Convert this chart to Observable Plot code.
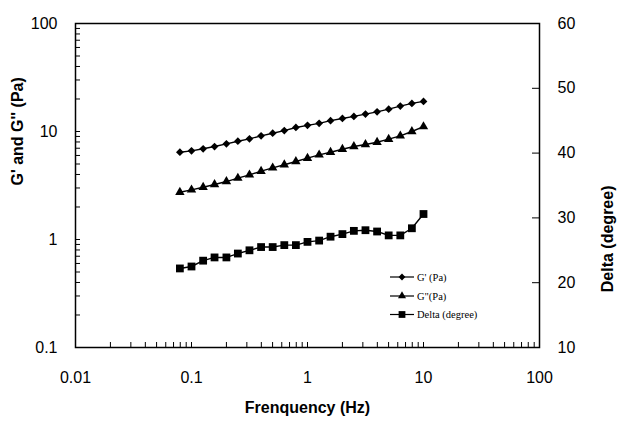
<!DOCTYPE html>
<html><head><meta charset="utf-8">
<script src="https://cdn.jsdelivr.net/npm/d3@7"></script>
<script src="https://cdn.jsdelivr.net/npm/@observablehq/plot@0.6"></script>
<style>body{margin:0;background:#fff} svg{display:block}</style>
</head><body><div id="chart"></div>
<script>
// ---- data ----
const frequency = [0.0794,0.1,0.126,0.158,0.2,0.251,0.316,0.398,0.501,0.631,0.794,1,1.26,1.58,2,2.51,3.16,3.98,5.01,6.31,7.94,10];
const gPrime = [6.43,6.62,6.92,7.26,7.69,8.13,8.55,9.12,9.64,10.2,10.9,11.4,11.9,12.6,13.2,13.8,14.5,15.2,16.1,17.2,18.2,19.0];
const gDoublePrime = [2.74,2.88,3.05,3.23,3.44,3.70,3.97,4.29,4.61,4.92,5.27,5.66,6.08,6.43,6.85,7.26,7.58,7.96,8.49,9.12,10.0,11.1];
const delta = [22.2,22.5,23.4,23.9,23.9,24.5,25.0,25.5,25.5,25.8,25.8,26.3,26.5,27.1,27.5,28.0,28.1,27.9,27.3,27.3,28.4,30.6];
const xTicks = [0.01,0.1,1,10,100];
const xTickLabels = ["0.01","0.1","1","10","100"];
const yLeftTicks = [0.1,1,10,100];
const yLeftTickLabels = ["0.1","1","10","100"];
const yRightTicks = [10,20,30,40,50,60];
const yRightTickLabels = ["10","20","30","40","50","60"];
const seriesNames = ["G' (Pa)", "G\"(Pa)", "Delta (degree)"];
const xTitle = "Frenquency (Hz)";
const yLeftTitle = "G' and G'' (Pa)";
const yRightTitle = "Delta (degree)";

// ---- scales ----
const leftDomain = [0.1, 100];
const rightDomain = [10, 60];
const decades = Math.log10(leftDomain[1] / leftDomain[0]);
const toLeft = d => leftDomain[0] * 10 ** ((d - rightDomain[0]) / (rightDomain[1] - rightDomain[0]) * decades);

const gpData = frequency.map((f, i) => ({f, v: gPrime[i]}));
const gppData = frequency.map((f, i) => ({f, v: gDoublePrime[i]}));
const deltaData = frequency.map((f, i) => ({f, v: toLeft(delta[i])}));
const rightLabels = yRightTicks.map((t, i) => ({v: toLeft(t), label: yRightTickLabels[i]}));

const minorOf = (lo, hi) => {
  const out = [];
  for (let e = Math.round(Math.log10(lo)); e < Math.round(Math.log10(hi)); e++)
    for (let m = 1; m < 10; m++) out.push(+(m * 10 ** e).toPrecision(6));
  out.push(hi);
  return out;
};
const xMinor = minorOf(0.01, 100);
const yMinor = minorOf(0.1, 100);

const sans = "'Liberation Sans', Arial, Helvetica, sans-serif";
const W = 623, H = 428, mL = 75, mR = 84, mT = 23, mB = 81;
const frameW = W - mL - mR, frameH = H - mT - mB;

function legend(index, scales, values, dims) {
  const g = d3.create("svg:g");
  const x0 = dims.width - dims.marginRight - 149;
  const rows = [277, 296, 314.5];
  const syms = [d3.symbol(d3.symbolDiamond2, 30), d3.symbol(d3.symbolTriangle, 28), d3.symbol(d3.symbolSquare, 46)];
  seriesNames.forEach((name, i) => {
    const y = rows[i];
    g.append("line").attr("x1", x0).attr("x2", x0 + 24).attr("y1", y).attr("y2", y)
      .attr("stroke", "black").attr("stroke-width", 1.2);
    g.append("path").attr("d", syms[i]()).attr("transform", `translate(${x0 + 12},${y})`).attr("fill", "black");
    g.append("text").attr("x", x0 + 27).attr("y", y).attr("dy", "0.35em")
      .attr("text-anchor", "start")
      .attr("font-family", "'Liberation Serif', 'Times New Roman', serif").attr("font-size", 10.5)
      .attr("fill", "black").text(name);
  });
  return g.node();
}

const lineOpts = {x: "f", y: "v", stroke: "black", strokeWidth: 1.4};

const chart = Plot.plot({
  width: W, height: H,
  marginLeft: mL, marginRight: mR, marginTop: mT, marginBottom: mB,
  style: {fontFamily: sans, fontSize: "16px", color: "black", background: "white"},
  x: {type: "log", domain: [0.01, 100]},
  y: {type: "log", domain: leftDomain},
  marks: [
    // ticks (inward)
    Plot.tickX(xMinor, {x: d => d, insetTop: frameH - 5, stroke: "black", strokeWidth: 1}),
    Plot.tickY(yMinor, {y: d => d, insetRight: frameW - 5, stroke: "black", strokeWidth: 1}),
    Plot.tickY(yRightTicks.slice(1, -1).map(toLeft), {y: d => d, insetLeft: frameW - 7, stroke: "black", strokeWidth: 1}),
    Plot.frame({stroke: "black", strokeWidth: 1.5}),
    // axes labels
    Plot.axisX(xTicks, {tickSize: 0, tickPadding: 24, label: null, fontSize: 16,
      tickFormat: d => xTickLabels[xTicks.indexOf(d)]}),
    Plot.axisY(yLeftTicks, {anchor: "left", tickSize: 0, tickPadding: 18, label: null, fontSize: 16,
      tickFormat: d => yLeftTickLabels[yLeftTicks.indexOf(d)]}),
    Plot.text(rightLabels, {y: "v", text: "label", frameAnchor: "right", dx: 18, textAnchor: "start",
      fontSize: 16, fill: "black"}),
    // titles
    Plot.text([xTitle], {frameAnchor: "bottom", dy: 65, fontWeight: "bold", fontSize: 16, fill: "black"}),
    Plot.text([yLeftTitle], {frameAnchor: "left", dx: -58, rotate: -90, fontWeight: "bold", fontSize: 16, fill: "black"}),
    Plot.text([yRightTitle], {frameAnchor: "right", dx: 68, rotate: -90, fontWeight: "bold", fontSize: 16, fill: "black"}),
    // series
    Plot.line(gpData, lineOpts),
    Plot.dot(gpData, {x: "f", y: "v", symbol: "diamond2", r: 3.5, fill: "black", stroke: "none"}),
    Plot.line(gppData, lineOpts),
    Plot.dot(gppData, {x: "f", y: "v", symbol: "triangle", r: 3.5, fill: "black", stroke: "none"}),
    Plot.line(deltaData, lineOpts),
    Plot.dot(deltaData, {x: "f", y: "v", symbol: "square", r: 4.4, fill: "black", stroke: "none"}),
    legend
  ]
});
document.getElementById("chart").append(chart);
</script>
</body></html>
